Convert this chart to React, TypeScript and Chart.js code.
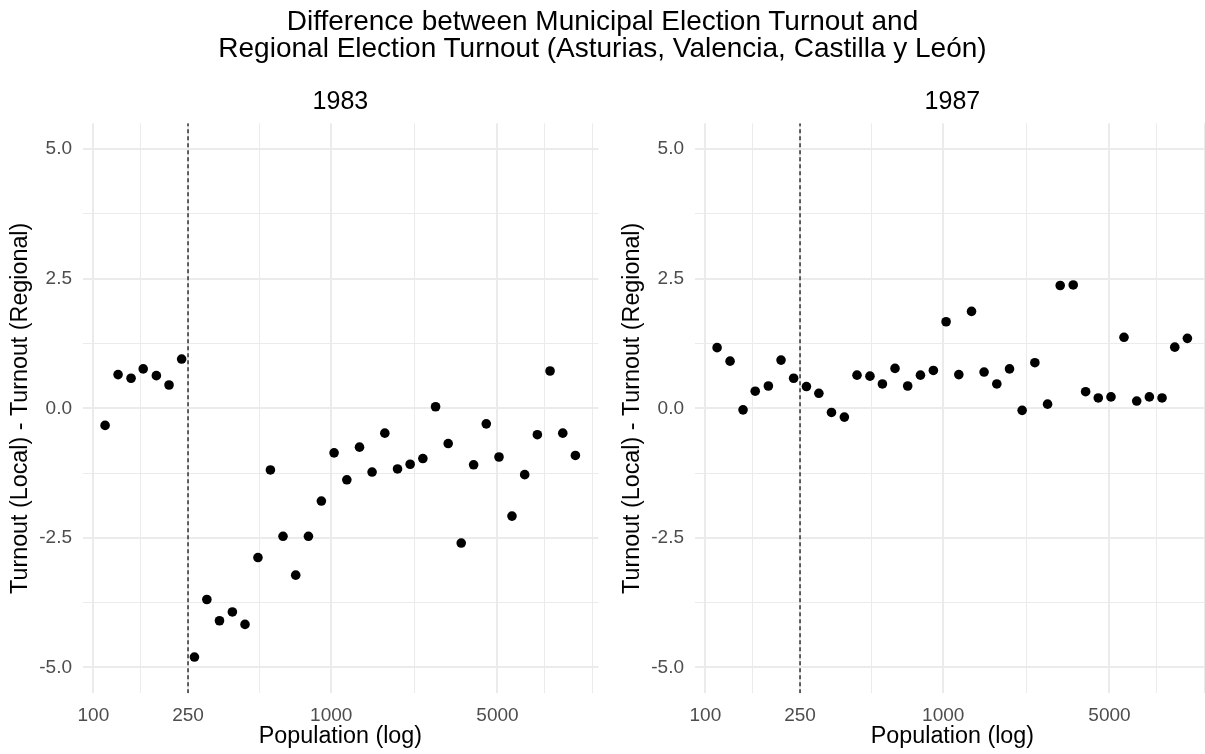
import React, { useEffect, useRef } from "react";
import { Chart, registerables } from "chart.js";

Chart.register(...registerables);

const titleLines = [
  "Difference between Municipal Election Turnout and",
  "Regional Election Turnout (Asturias, Valencia, Castilla y León)",
];
const facetYears = ["1983", "1987"];
const xAxisTitle = "Population (log)";
const yAxisTitle = "Turnout (Local) - Turnout (Regional)";

// population bins (shared by both facets)
const population = [
  112, 127, 144, 162, 184, 208, 235, 266, 300, 339, 384, 434, 492, 555, 627,
  709, 802, 909, 1028, 1163, 1315, 1485, 1680, 1900, 2147, 2428, 2746, 3103,
  3520, 3969, 4486, 5074, 5754, 6508, 7356, 8318, 9408, 10630,
];

const diff1983 = [
  -0.33, 0.65, 0.58, 0.76, 0.63, 0.45, 0.95, -4.8, -3.69, -4.1, -3.93, -4.17,
  -2.88, -1.19, -2.47, -3.22, -2.47, -1.79, -0.86, -1.38, -0.75, -1.23, -0.48,
  -1.17, -1.08, -0.97, 0.03, -0.68, -2.6, -1.09, -0.3, -0.94, -2.08, -1.28,
  -0.51, 0.72, -0.48, -0.91,
];

const diff1987 = [
  1.17, 0.91, -0.03, 0.33, 0.43, 0.93, 0.58, 0.42, 0.29, -0.08, -0.17, 0.64,
  0.62, 0.47, 0.77, 0.43, 0.64, 0.73, 1.67, 0.65, 1.87, 0.7, 0.47, 0.76, -0.04,
  0.88, 0.08, 2.37, 2.38, 0.32, 0.2, 0.22, 1.37, 0.14, 0.22, 0.2, 1.18, 1.35,
];

const thresholdPopulation = 250;

const xLimits = [90, 13270];
const yLimits = [-5.5, 5.5];
const xMajorTicks = [100, 250, 1000, 5000];
const xMinorTicks = [158, 500, 2236, 7906, 12500];
const yMajorTicks = [-5, -2.5, 0, 2.5, 5];
const yMinorTicks = [-3.75, -1.25, 1.25, 3.75];

const FONT = "'Liberation Sans', Arial, Helvetica, sans-serif";
Chart.defaults.font.family = FONT;

const CANVAS_W = 612;
const CANVAS_H = 754;

function Panel({ year, values, left }: { year: string; values: number[]; left: number }) {
  const ref = useRef<HTMLCanvasElement | null>(null);

  useEffect(() => {
    if (!ref.current) return;
    const chart = new Chart(ref.current, {
      type: "scatter",
      data: {
        datasets: [
          {
            type: "scatter",
            data: population.map((p, i) => ({ x: p, y: values[i] })),
            backgroundColor: "#000000",
            borderWidth: 0,
            pointRadius: 4.8,
            pointHoverRadius: 4.8,
          },
          {
            type: "line",
            data: [
              { x: thresholdPopulation, y: yLimits[0] },
              { x: thresholdPopulation, y: yLimits[1] },
            ],
            borderColor: "#000000",
            borderWidth: 1.2,
            borderDash: [4, 3],
            pointRadius: 0,
            fill: false,
          } as any,
        ],
      },
      options: {
        responsive: false,
        animation: false,
        events: [],
        layout: { padding: { left: 0, right: 13.7, top: 0, bottom: 0 } },
        plugins: {
          legend: { display: false },
          tooltip: { enabled: false },
          title: {
            display: true,
            text: year,
            fullSize: false,
            color: "#000000",
            font: { size: 25, weight: "normal" as any },
            padding: { top: 86.7, bottom: 6.6 },
          },
        },
        scales: {
          x: {
            type: "logarithmic",
            min: xLimits[0],
            max: xLimits[1],
            bounds: "data",
            afterBuildTicks: (s: any) => {
              s.ticks = [...xMajorTicks, ...xMinorTicks]
                .sort((a, b) => a - b)
                .map((v) => ({ value: v }));
            },
            afterFit: (s: any) => {
              s.height = CANVAS_H - 693.3;
            },
            grid: {
              drawTicks: false,
              color: "#EBEBEB",
              lineWidth: (c: any) => (c.tick && xMajorTicks.includes(c.tick.value) ? 2 : 1),
            },
            border: { display: false },
            ticks: {
              autoSkip: false,
              maxRotation: 0,
              minRotation: 0,
              padding: 11,
              color: "#4D4D4D",
              font: { size: 19 },
              callback: (v: any) => (xMajorTicks.includes(Number(v)) ? String(v) : ""),
            },
            title: {
              display: true,
              text: xAxisTitle,
              color: "#000000",
              font: { size: 23.3 },
              padding: { top: 0, bottom: 3 },
            },
          },
          y: {
            type: "linear",
            min: yLimits[0],
            max: yLimits[1],
            bounds: "data",
            afterBuildTicks: (s: any) => {
              s.ticks = [...yMajorTicks, ...yMinorTicks]
                .sort((a, b) => a - b)
                .map((v) => ({ value: v }));
            },
            afterFit: (s: any) => {
              s.width = 82.5;
            },
            grid: {
              drawTicks: false,
              color: "#EBEBEB",
              lineWidth: (c: any) => (c.tick && yMajorTicks.includes(c.tick.value) ? 2 : 1),
            },
            border: { display: false },
            ticks: {
              autoSkip: false,
              padding: 10.5,
              color: "#4D4D4D",
              font: { size: 19 },
              callback: (v: any) => (yMajorTicks.includes(Number(v)) ? Number(v).toFixed(1) : ""),
            },
            title: {
              display: true,
              text: yAxisTitle,
              color: "#000000",
              font: { size: 23.3 },
              padding: { top: 7, bottom: 0 },
            },
          },
        },
      },
    });
    return () => chart.destroy();
  }, [year, values]);

  return (
    <canvas
      ref={ref}
      width={CANVAS_W}
      height={CANVAS_H}
      style={{ position: "absolute", left, top: 0, width: CANVAS_W, height: CANVAS_H, display: "block" }}
    />
  );
}

export default function App() {
  return (
    <div
      style={{
        position: "fixed",
        left: 0,
        top: 0,
        width: 1205,
        height: 754,
        overflow: "hidden",
        background: "#ffffff",
      }}
    >
      <div
        style={{
          position: "absolute",
          left: 0,
          top: 6.8,
          width: 1205,
          textAlign: "center",
          fontFamily: FONT,
          fontSize: 28,
          lineHeight: "27px",
          color: "#000000",
          zIndex: 2,
        }}
      >
        {titleLines.map((t) => (
          <div key={t}>{t}</div>
        ))}
      </div>
      <Panel year={facetYears[0]} values={diff1983} left={0} />
      <Panel year={facetYears[1]} values={diff1987} left={612} />
    </div>
  );
}
